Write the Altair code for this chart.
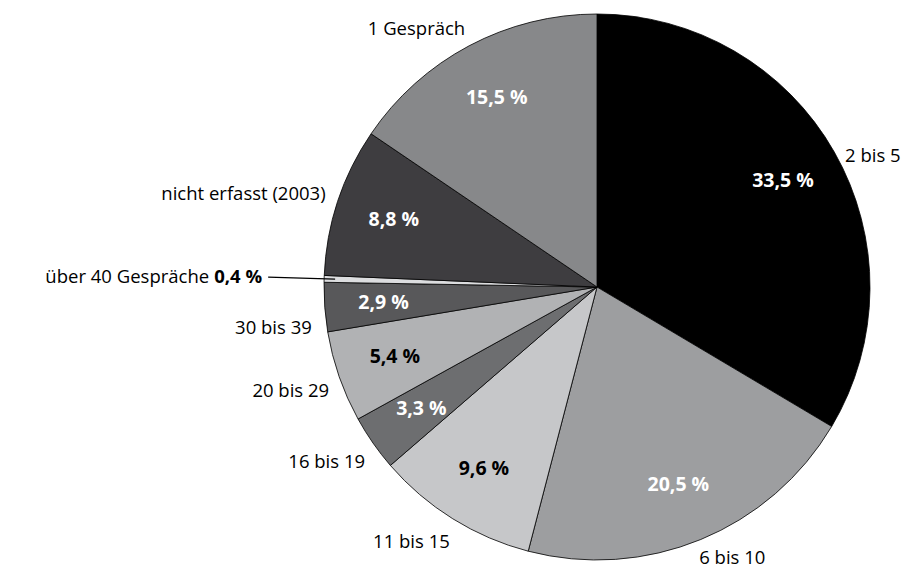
import altair as alt
import pandas as pd

# ---- data ----
cats = ["2 bis 5", "6 bis 10", "11 bis 15", "16 bis 19", "20 bis 29",
        "30 bis 39", "über 40 Gespräche", "nicht erfasst (2003)", "1 Gespräch"]
values = [33.5, 20.5, 9.6, 3.3, 5.4, 2.9, 0.4, 8.8, 15.5]

# ---- styles ----
fills = ["#000000", "#9d9ea0", "#c6c7c9", "#6d6e70", "#b1b2b4",
         "#58585a", "#dcdddf", "#3e3d40", "#87888a"]
dark_text = ["11 bis 15", "20 bis 29"]
FONT = "Open Sans"
FS = 18.5
FSB = 19.5
CX, CY, R = 589, 279, 273
R_IN = 214
R_OUT = 290

df = pd.DataFrame({
    "cat": cats,
    "value": values,
    "order": list(range(len(cats))),
    "pct": [f"{v:.1f} %".replace(".", ",") for v in values],
})

base = (
    alt.Chart(df)
    .transform_window(cum="sum(value)", sort=[alt.SortField("order")], frame=[None, 0])
    .transform_joinaggregate(total="sum(value)")
    .transform_calculate(mid="(datum.cum - datum.value/2) / datum.total * 2 * PI")
)


def polar(chart, r, name):
    return chart.transform_calculate(
        **{
            name + "x": f"{CX} + {r} * sin(datum.mid)",
            name + "y": f"{CY} - {r} * cos(datum.mid)",
        }
    )


def xy(name):
    return dict(x=alt.X(name + "x:Q", scale=None, axis=None),
                y=alt.Y(name + "y:Q", scale=None, axis=None))


pie = alt.Chart(df).mark_arc(outerRadius=R, stroke="black", strokeWidth=0.8).encode(
    theta=alt.Theta("value:Q", stack=True),
    order=alt.Order("order:Q"),
    color=alt.Color("cat:N", scale=alt.Scale(domain=cats, range=fills), legend=None),
    x=alt.value(CX),
    y=alt.value(CY),
)

inner = polar(base, R_IN, "i").transform_filter(
    "datum.cat != 'über 40 Gespräche'"
).mark_text(font=FONT, fontSize=FSB, fontWeight="bold", baseline="middle", align="center").encode(
    **xy("i"),
    text="pct:N",
    color=alt.condition(alt.FieldOneOfPredicate(field="cat", oneOf=dark_text),
                        alt.value("black"), alt.value("white")),
)

outer = polar(base, R_OUT, "o")
txt = dict(font=FONT, fontSize=FS, color="black")

right_top = outer.transform_filter("datum.mid < 0.5 * PI").mark_text(
    align="left", baseline="middle", dx=-4, dy=12, **txt).encode(**xy("o"), text="cat:N")

right_bottom = outer.transform_filter("datum.mid >= 0.5 * PI && datum.mid < PI").mark_text(
    align="left", baseline="bottom", dx=-8, dy=13, **txt).encode(**xy("o"), text="cat:N")

left_lower = outer.transform_filter(
    "datum.mid >= PI && datum.mid < 1.5 * PI && datum.cat != '30 bis 39'"
).mark_text(align="right", baseline="middle", dx=6, dy=9, **txt).encode(**xy("o"), text="cat:N")

left_upper = outer.transform_filter(
    "datum.mid >= 1.5 * PI && datum.cat != 'über 40 Gespräche'"
).mark_text(align="right", baseline="middle", dx=4, dy=-2, **txt).encode(**xy("o"), text="cat:N")

lbl_3039 = outer.transform_filter("datum.cat == '30 bis 39'").mark_text(
    align="right", baseline="middle", dx=4, dy=20, **txt).encode(**xy("o"), text="cat:N")

# leader for the tiny slice
small = polar(polar(polar(base, 262, "a"), 329, "b"), 335, "t").transform_filter(
    "datum.cat == 'über 40 Gespräche'")

leader = small.mark_rule(color="black", strokeWidth=1.2).encode(
    **xy("a"), x2="bx:Q", y2="by:Q",
)
small_pct = small.mark_text(fontWeight="bold", align="right", baseline="middle", **txt).encode(
    **xy("t"), text="pct:N")
small_cat = small.mark_text(align="right", baseline="middle", dx=-53, **txt).encode(
    **xy("t"), text="cat:N")

chart = alt.layer(pie, inner, right_top, right_bottom, left_lower, left_upper, lbl_3039,
                  leader, small_pct, small_cat).properties(
    width=896, height=562, padding=0, autosize="none"
).configure_view(stroke=None)

chart.save("out.html", embed_options={"renderer": "svg", "actions": False})
